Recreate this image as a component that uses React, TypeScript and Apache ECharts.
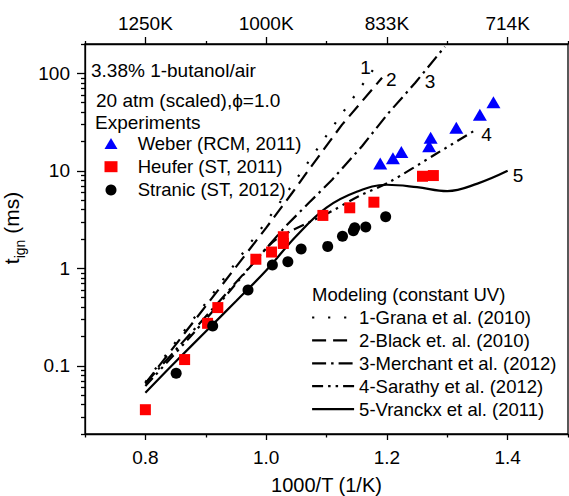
import React, { useEffect, useRef } from 'react';
import * as echarts from 'echarts';

// ---- Experiments ----
const weberX = [1.189, 1.21, 1.224, 1.27, 1.2725, 1.315, 1.354, 1.3765];
const weberY = [11.9, 13.5, 15.6, 17.9, 21.8, 27.7, 37.7, 50.4];

const heuferX = [0.8, 0.865, 0.903, 0.92, 0.983, 1.009, 1.0285, 1.0285, 1.094, 1.1385, 1.1785, 1.259, 1.277];
const heuferY = [0.0355, 0.116, 0.273, 0.396, 1.24, 1.47, 1.8, 2.11, 3.49, 4.18, 4.77, 8.8, 8.95];

const stranicX = [0.851, 0.9115, 0.97, 1.0104, 1.036, 1.058, 1.102, 1.1265, 1.1445, 1.1467, 1.165, 1.198];
const stranicY = [0.084, 0.257, 0.6, 1.08, 1.17, 1.58, 1.68, 2.13, 2.43, 2.61, 2.65, 3.38];

// ---- Models ----
const granaX = [0.8, 0.857, 0.9, 0.95, 1.0, 1.05, 1.1, 1.15, 1.189];
const granaY = [0.068, 0.2, 0.44, 1.15, 3.0, 8.2, 23, 63, 138];

const blackX = [0.8, 0.9, 1.0, 1.0433, 1.0709, 1.1258, 1.192];
const blackY = [0.066, 0.41, 2.6, 5.96, 10.3, 29.8, 90];

const merchantX = [0.8, 0.9, 1.0, 1.0325, 1.0709, 1.1093, 1.1588, 1.2027, 1.2467, 1.296];
const merchantY = [0.066, 0.32, 1.6, 2.71, 4.7, 8.1, 17.9, 39.2, 79.6, 188];

const sarathyX = [0.8, 0.9, 1.0, 1.0214, 1.1038, 1.1533, 1.2027, 1.2797, 1.343];
const sarathyY = [0.062, 0.3, 1.6, 2.08, 3.72, 5.5, 7.6, 14.7, 25.4];

const vranckxX = [0.8, 0.85, 0.9, 0.95, 1.0, 1.05, 1.1, 1.15, 1.2, 1.25, 1.3, 1.35, 1.4];
const vranckxY = [0.053, 0.11, 0.225, 0.46, 0.95, 2.15, 4.2, 6.1, 7.2, 6.8, 6.2, 7.4, 10];

// ---- Ticks ----
const xMajorTicks = [0.8, 1.0, 1.2, 1.4];
const xMinorTicks = [0.7, 0.9, 1.1, 1.3, 1.5];
const yMajorTicks = [0.1, 1, 10, 100];
const yMinorTicks = [
  0.02, 0.03, 0.04, 0.05, 0.06, 0.07, 0.08, 0.09,
  0.2, 0.3, 0.4, 0.5, 0.6, 0.7, 0.8, 0.9,
  2, 3, 4, 5, 6, 7, 8, 9,
  20, 30, 40, 50, 60, 70, 80, 90,
  200,
];

// ---- Names / line styles ----
const expNames = ['Weber (RCM, 2011)', 'Heufer (ST, 2011)', 'Stranic (ST, 2012)'];
const modelNames = ['1-Grana et al. (2010)', '2-Black et. al. (2010)', '3-Merchant et al. (2012)', '4-Sarathy et al. (2012)', '5-Vranckx et al. (2011)'];
const modelDashes: any[] = [[2.2, 13.8], [14, 7], [14, 5, 2.5, 5], [11, 5, 2.5, 5, 2.5, 5], 'solid'];

const FONT = "'Liberation Sans', Arial, sans-serif";
const pairs = (xs: number[], ys: number[]) => xs.map((x, i) => [x, ys[i]]);

export default function App() {
  const ref = useRef<HTMLDivElement>(null);
  useEffect(() => {
    const chart = echarts.init(ref.current!, null, { renderer: 'svg' });
    const axisLineStyle = { color: '#000', width: 1.3 };
    const baseX = { type: 'value', min: 0.7, max: 1.5, gridIndex: 0, splitLine: { show: false } };
    const baseY = { type: 'log', logBase: 10, min: 0.02, max: 200, gridIndex: 0, splitLine: { show: false } };
    const labelStyle = { fontSize: 19, color: '#000', fontFamily: FONT };

    const lineSeries = (idx: number, xs: number[], ys: number[], label: string, offset: number[], smooth: any = false) => ({
      name: modelNames[idx],
      type: 'line',
      data: pairs(xs, ys),
      symbol: 'none',
      smooth,
      lineStyle: { color: '#000', width: 2.2, type: modelDashes[idx] },
      itemStyle: { color: '#000' },
      endLabel: { show: true, formatter: label, fontSize: 19, color: '#000', fontFamily: FONT, offset },
      z: 2,
    });

    chart.setOption({
      animation: false,
      grid: { left: 85, right: 1, top: 44, bottom: 62, show: true, borderColor: '#000', borderWidth: 1.3, outerBoundsMode: 'none' },
      xAxis: [
        {
          ...baseX, position: 'bottom',
          axisLine: { show: true, lineStyle: axisLineStyle },
          axisTick: { show: true, length: 6, customValues: xMajorTicks, lineStyle: axisLineStyle },
          axisLabel: { ...labelStyle, customValues: xMajorTicks, margin: 14, formatter: (v: number) => v.toFixed(1) },
          name: '1000/T (1/K)', nameLocation: 'middle', nameGap: 41,
          nameTextStyle: { fontSize: 20, color: '#000', fontFamily: FONT },
        },
        {
          ...baseX, position: 'bottom',
          axisLine: { show: false },
          axisTick: { show: true, length: 3.5, customValues: xMinorTicks, lineStyle: axisLineStyle },
          axisLabel: { show: false },
        },
        {
          ...baseX, position: 'top',
          axisLine: { show: true, lineStyle: axisLineStyle },
          axisTick: { show: true, length: 7, customValues: xMajorTicks, lineStyle: axisLineStyle },
          axisLabel: { ...labelStyle, customValues: xMajorTicks, margin: 11, formatter: (v: number) => Math.round(1000 / v) + 'K' },
        },
        {
          ...baseX, position: 'top',
          axisLine: { show: false },
          axisTick: { show: true, length: 3, customValues: xMinorTicks, lineStyle: axisLineStyle },
          axisLabel: { show: false },
        },
      ],
      yAxis: [
        {
          ...baseY, position: 'left',
          axisLine: { show: true, lineStyle: axisLineStyle },
          axisTick: { show: true, length: 8, customValues: yMajorTicks, lineStyle: axisLineStyle },
          axisLabel: { ...labelStyle, customValues: yMajorTicks, margin: 15, formatter: (v: number) => String(parseFloat(Number(v).toPrecision(6))) },
          name: '{a|t}{b|ign}{a| (ms)}', nameLocation: 'middle', nameGap: 52,
          nameTextStyle: {
            color: '#000', fontFamily: FONT, padding: [0, 0, 0, 22],
            rich: {
              a: { fontSize: 21, fontFamily: FONT, color: '#000', lineHeight: 23 },
              b: { fontSize: 14, fontFamily: FONT, color: '#000', lineHeight: 31, verticalAlign: 'bottom' },
            },
          },
        },
        {
          ...baseY, position: 'left',
          axisLine: { show: false },
          axisTick: { show: true, length: 4, customValues: yMinorTicks, lineStyle: axisLineStyle },
          axisLabel: { show: false },
        },
      ],
      legend: [
        {
          orient: 'vertical', left: 104.5, top: 134, padding: 0, itemGap: 4.2,
          itemWidth: 13, itemHeight: 11, selectedMode: false,
          textStyle: { fontSize: 18.5, color: '#000', fontFamily: FONT, padding: [0, 0, 0, 15.2] },
          data: expNames,
        },
        {
          orient: 'vertical', left: 311, top: 308, padding: 0, itemGap: 3.9,
          itemWidth: 42, itemHeight: 10, selectedMode: false,
          itemStyle: { opacity: 0, borderWidth: 0 },
          textStyle: { fontSize: 18.5, color: '#000', fontFamily: FONT },
          data: modelNames.map((name, i) => ({
            name,
            itemStyle: { opacity: 0, borderWidth: 0 },
            lineStyle: { type: modelDashes[i], width: 2.2, color: '#000', opacity: 1 },
          })),
        },
      ],
      graphic: [
        { type: 'text', x: 91, y: 70, style: { text: '3.38% 1-butanol/air', fontSize: 19, fontFamily: FONT, fill: '#000', verticalAlign: 'middle' } },
        { type: 'text', x: 96, y: 100, style: { text: '20 atm (scaled),\u03D5=1.0', fontSize: 19, fontFamily: FONT, fill: '#000', verticalAlign: 'middle' } },
        { type: 'text', x: 95, y: 122, style: { text: 'Experiments', fontSize: 19, fontFamily: FONT, fill: '#000', verticalAlign: 'middle' } },
        { type: 'text', x: 312, y: 294, style: { text: 'Modeling (constant UV)', fontSize: 18.5, fontFamily: FONT, fill: '#000', verticalAlign: 'middle' } },
      ],
      series: [
        lineSeries(0, granaX, granaY, '1', [-28, 8]),
        lineSeries(1, blackX, blackY, '2', [-4, 2]),
        lineSeries(2, merchantX, merchantY, '3', [-28, 35]),
        lineSeries(3, sarathyX, sarathyY, '4', [0, 3], 0.3),
        lineSeries(4, vranckxX, vranckxY, '5', [-3, 5], 0.4),
        {
          name: expNames[0], type: 'scatter', data: pairs(weberX, weberY),
          symbol: 'triangle', symbolSize: [14, 12], itemStyle: { color: '#0000FF', opacity: 1 }, z: 3,
        },
        {
          name: expNames[1], type: 'scatter', data: pairs(heuferX, heuferY),
          symbol: 'rect', symbolSize: 11, itemStyle: { color: '#FF0000', opacity: 1 }, z: 3,
        },
        {
          name: expNames[2], type: 'scatter', data: pairs(stranicX, stranicY),
          symbol: 'circle', symbolSize: 11, itemStyle: { color: '#000000', opacity: 1 }, z: 3,
        },
      ],
    });
    return () => chart.dispose();
  }, []);
  return <div ref={ref} style={{ position: 'fixed', left: 0, top: 0, width: 569, height: 496, background: '#fff' }} />;
}
